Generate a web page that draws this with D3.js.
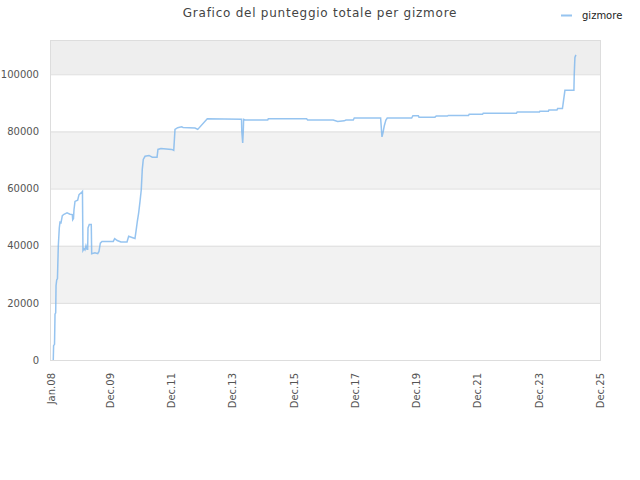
<!DOCTYPE html>
<html>
<head>
<meta charset="utf-8">
<script src="https://cdn.jsdelivr.net/npm/d3@7"></script>
<style>
  body { margin: 0; background: #fff; }
  text { font-family: "DejaVu Sans", sans-serif; }
</style>
</head>
<body>
<svg id="chart" width="640" height="480"></svg>
<script>
// Score history (date, total score)
const dates = [
  "2008-01-28", "2008-02-01", "2008-02-12", "2008-02-18", "2008-02-26", "2008-03-01", "2008-03-09", "2008-03-18",
  "2008-03-21", "2008-03-28", "2008-04-09", "2008-04-17", "2008-04-29", "2008-05-15", "2008-06-04", "2008-07-10",
  "2008-08-14", "2008-09-11", "2008-09-16", "2008-09-25", "2008-10-01", "2008-10-13", "2008-11-14", "2008-11-30",
  "2009-01-01", "2009-01-10", "2009-01-16", "2009-01-28", "2009-02-09", "2009-02-21", "2009-03-05", "2009-03-13",
  "2009-03-17", "2009-04-01", "2009-04-25", "2009-04-30", "2009-06-08", "2009-07-11", "2009-07-26", "2009-08-11",
  "2009-08-31", "2010-01-12", "2010-01-29", "2010-03-01", "2010-04-14", "2010-06-25", "2010-07-15", "2010-08-24",
  "2010-09-28", "2010-10-10", "2010-10-26", "2010-11-11", "2010-11-27", "2010-12-12", "2010-12-24", "2011-01-05",
  "2011-01-26", "2011-03-14", "2011-04-22", "2011-06-18", "2011-06-29", "2011-08-04", "2011-12-10", "2012-01-03",
  "2012-01-18", "2012-02-19", "2012-04-07", "2012-04-23", "2012-09-13", "2012-10-15", "2013-02-06", "2014-03-21",
  "2014-03-24", "2014-04-04", "2014-04-11", "2014-04-15", "2014-05-02", "2015-01-27", "2015-02-03", "2016-05-05",
  "2016-05-17", "2017-03-18", "2017-05-10", "2017-07-27", "2017-08-17", "2017-11-12", "2017-11-24", "2018-10-04",
  "2018-10-20", "2018-11-01", "2018-11-16", "2018-12-06", "2018-12-22", "2019-10-09", "2019-10-24", "2019-12-27",
  "2020-01-04", "2020-07-13", "2020-07-28", "2020-12-08", "2020-12-18", "2021-08-16", "2021-08-25", "2022-01-31",
  "2022-02-08", "2023-03-11", "2023-03-20", "2023-12-10", "2023-12-15", "2024-03-26", "2024-04-01", "2024-07-06",
  "2024-07-14", "2024-09-09", "2024-09-15", "2024-10-09", "2025-01-24", "2025-01-28", "2025-02-05", "2025-02-17"
];
const scores = [
  0, 5000, 5500, 16000, 16500, 26000, 28000, 28500,
  32000, 39800, 46300, 48200, 48000, 50500, 51000, 51500,
  51000, 50900, 49100, 49500, 52600, 55500, 55900, 57900,
  58700, 59000, 38300, 38900, 38500, 40000, 38800, 38800,
  46200, 47400, 47400, 37200, 37500, 37200, 38000, 40900,
  41500, 41500, 42500, 41800, 41300, 41300, 43300, 42900,
  42500, 45000, 48500, 51500, 55500, 59600, 66700, 70200,
  71300, 71600, 71000, 71000, 73700, 74000, 73700, 73400,
  80700, 81300, 81600, 81400, 81200, 80700, 84400, 84300,
  80100, 76000, 80100, 84200, 84000, 84000, 84400, 84400,
  84000, 84000, 83500, 83700, 84000, 84000, 84700, 84700,
  78100, 79500, 81900, 84000, 84700, 84700, 85500, 85500,
  85000, 85000, 85400, 85400, 85600, 85600, 86000, 86000,
  86400, 86400, 86800, 86800, 87100, 87100, 87500, 87500,
  88000, 88000, 89200, 94400, 94400, 100000, 105900, 106800
];

// Axis labels
const yTicks = [0, 20000, 40000, 60000, 80000, 100000];
const xTickDates = ["2008-01-01", "2009-12-01", "2011-12-01", "2013-12-01", "2015-12-01",
  "2017-12-01", "2019-12-01", "2021-12-01", "2023-12-01", "2025-12-01"];
const xTickLabels = ["Jan.08", "Dec.09", "Dec.11", "Dec.13", "Dec.15",
  "Dec.17", "Dec.19", "Dec.21", "Dec.23", "Dec.25"];
const seriesName = "gizmore";
const title = "Grafico del punteggio totale per gizmore";

const parse = d3.timeParse("%Y-%m-%d");
const data = dates.map((d, i) => ({ date: parse(d), value: scores[i] }));

const margin = { top: 40, right: 40, bottom: 120, left: 51 };
const width = 640, height = 480;

const svg = d3.select("#chart");

const x = d3.scaleTime()
  .domain([parse(xTickDates[0]), parse(xTickDates[xTickDates.length - 1])])
  .range([margin.left, width - margin.right]);
const y = d3.scaleLinear()
  .domain([0, 112000])
  .range([height - margin.bottom, margin.top]);

// Alternating horizontal bands
const bandEdges = yTicks.concat([y.domain()[1]]);
svg.append("g").selectAll("rect")
  .data(d3.pairs(bandEdges))
  .join("rect")
    .attr("x", margin.left)
    .attr("width", width - margin.right - margin.left)
    .attr("y", d => y(d[1]))
    .attr("height", d => y(d[0]) - y(d[1]))
    .attr("fill", (d, i) => i === bandEdges.length - 2 ? "#eeeeee" : (i % 2 ? "#f2f2f2" : "#ffffff"));

// Grid lines
svg.append("g").selectAll("line")
  .data(yTicks)
  .join("line")
    .attr("x1", margin.left)
    .attr("x2", width - margin.right)
    .attr("y1", d => y(d) + 0.5)
    .attr("y2", d => y(d) + 0.5)
    .attr("stroke", "#dddddd");

// Plot frame
svg.append("rect")
  .attr("x", margin.left - 0.5)
  .attr("y", margin.top + 0.5)
  .attr("width", width - margin.right - margin.left + 1)
  .attr("height", height - margin.bottom - margin.top)
  .attr("fill", "none")
  .attr("stroke", "#dddddd");

// Y axis labels
const yAxis = d3.axisLeft(y).tickValues(yTicks).tickSize(0).tickPadding(12).tickFormat(d3.format("d"));
svg.append("g")
  .attr("transform", `translate(${margin.left},0)`)
  .call(yAxis)
  .call(g => g.select(".domain").remove())
  .call(g => g.selectAll("text").attr("fill", "#555").style("font-size", "10px").style("font-family", "DejaVu Sans"));

// X axis labels, rotated
const xAxis = d3.axisBottom(x)
  .tickValues(xTickDates.map(parse))
  .tickSize(0)
  .tickFormat((d, i) => xTickLabels[i]);
svg.append("g")
  .attr("transform", `translate(0,${height - margin.bottom})`)
  .call(xAxis)
  .call(g => g.select(".domain").remove())
  .call(g => g.selectAll("text")
    .attr("fill", "#555")
    .style("font-size", "10px")
    .style("font-family", "DejaVu Sans")
    .attr("text-anchor", "end")
    .attr("transform", "rotate(-90)")
    .attr("x", -13)
    .attr("y", 0)
    .attr("dy", "0.35em"));

// Score line
const line = d3.line().x(d => x(d.date)).y(d => y(d.value));
svg.append("path")
  .datum(data)
  .attr("d", line)
  .attr("fill", "none")
  .attr("stroke", "#7cb5ec")
  .attr("stroke-opacity", 0.8)
  .attr("stroke-width", 1.5);

// Title
svg.append("text")
  .attr("x", 320)
  .attr("y", 17)
  .attr("text-anchor", "middle")
  .attr("fill", "#444")
  .style("font-size", "12px")
  .style("letter-spacing", "0.75px")
  .text(title);

// Legend
svg.append("line")
  .attr("x1", 561).attr("x2", 572)
  .attr("y1", 15.5).attr("y2", 15.5)
  .attr("stroke", "#7cb5ec")
  .attr("stroke-opacity", 0.8)
  .attr("stroke-width", 2);
svg.append("text")
  .attr("x", 582)
  .attr("y", 19)
  .attr("fill", "#222")
  .style("font-size", "10px")
  .text(seriesName);
</script>
</body>
</html>
